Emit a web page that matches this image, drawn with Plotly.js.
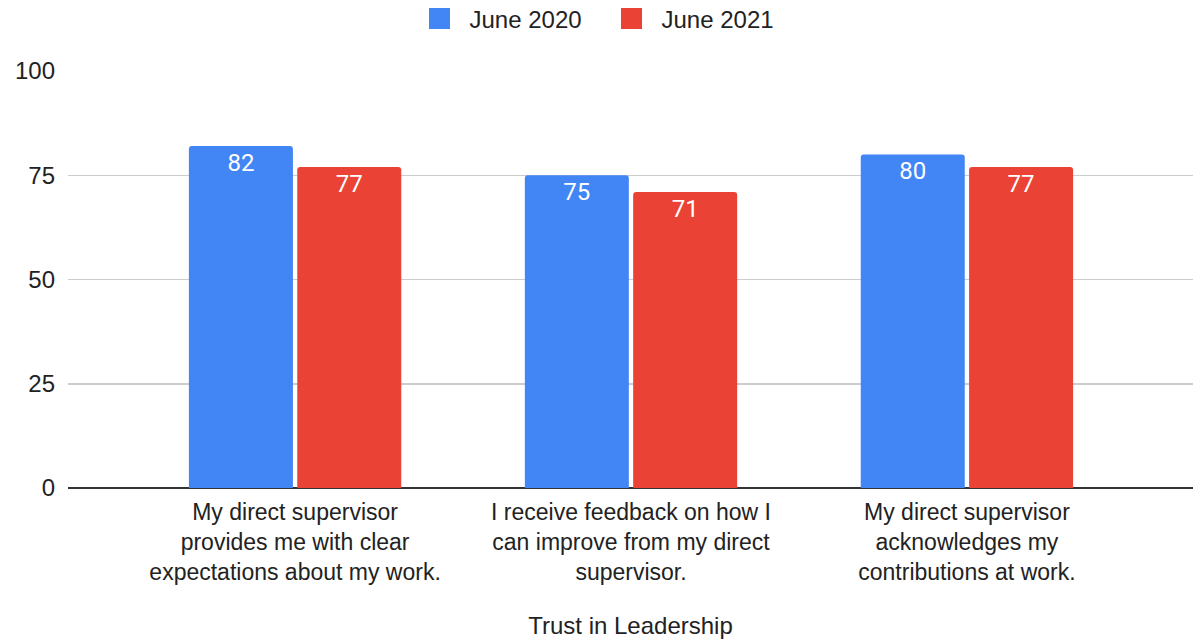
<!DOCTYPE html>
<html>
<head>
<meta charset="utf-8">
<script src="https://cdn.plot.ly/plotly-3.0.1.min.js"></script>
<style>html,body{margin:0;padding:0;background:#fff;}#chart{width:1193px;height:639px;}</style>
</head>
<body>
<div id="chart"></div>
<script>
const categories = [
  "My direct supervisor<br>provides me with clear<br>expectations about my work.",
  "I receive feedback on how I<br>can improve from my direct<br>supervisor.",
  "My direct supervisor<br>acknowledges my<br>contributions at work."
];
const june2020 = [82, 75, 80];
const june2021 = [77, 71, 77];
const seriesNames = ["June 2020", "June 2021"];
const seriesColors = ["#4285F4", "#EA4335"];
const yTicks = [0, 25, 50, 75, 100];

const baseFont = "Liberation Sans, Arial, sans-serif";
function barTrace(name, values, color) {
  return {
    type: "bar",
    name: name,
    x: categories,
    y: values,
    showlegend: false,
    marker: {color: color, cornerradius: 3},
    text: values.map(String),
    textposition: "inside",
    insidetextanchor: "end",
    textangle: 0,
    textfont: {color: "#ffffff", size: 24, family: "Roboto, Arial, sans-serif"},
    hoverinfo: "skip"
  };
}
function legendTrace(name, color) {
  return {
    type: "scatter",
    mode: "markers",
    name: name,
    x: [null], y: [null],
    showlegend: true,
    marker: {symbol: "square", size: 16, color: color, line: {color: color, width: 5}},
    hoverinfo: "skip"
  };
}
const data = [
  barTrace(seriesNames[0], june2020, seriesColors[0]),
  barTrace(seriesNames[1], june2021, seriesColors[1]),
  legendTrace(seriesNames[0], seriesColors[0]),
  legendTrace(seriesNames[1], seriesColors[1])
];
const layout = {
  width: 1193, height: 639,
  margin: {l: 68, r: 0, t: 71, b: 151},
  paper_bgcolor: "#fff", plot_bgcolor: "#fff",
  barmode: "group",
  bargap: 0.355,
  bargroupgap: 0.04,
  font: {family: baseFont, color: "#222", size: 24},
  showlegend: true,
  legend: {orientation: "h", x: 0.5042, xanchor: "center", xref: "container",
           y: 1 - 19/639, yanchor: "middle", yref: "container",
           itemwidth: 50, entrywidth: 127, entrywidthmode: "pixels",
           font: {size: 24, color: "#222"}, itemsizing: "trace", traceorder: "normal"},
  xaxis: {
    type: "category",
    range: [-0.676, 2.673],
    showgrid: false, showline: false, ticks: "",
    tickfont: {size: 23, color: "#222"},
    ticklabelstandoff: 8,
    title: {text: "Trust in Leadership", font: {size: 24, color: "#222"}, standoff: 35},
    automargin: false
  },
  yaxis: {
    range: [0, 100],
    tickvals: yTicks,
    ticktext: yTicks.map(String),
    showgrid: true, gridcolor: "#cccccc", gridwidth: 1.5,
    zeroline: true, zerolinecolor: "#333333", zerolinewidth: 2,
    showline: false, ticks: "",
    tickfont: {size: 24, color: "#222"},
    ticklabelstandoff: 12,
    automargin: false
  }
};
Plotly.newPlot("chart", data, layout, {displayModeBar: false, staticPlot: true});
</script>
</body>
</html>
